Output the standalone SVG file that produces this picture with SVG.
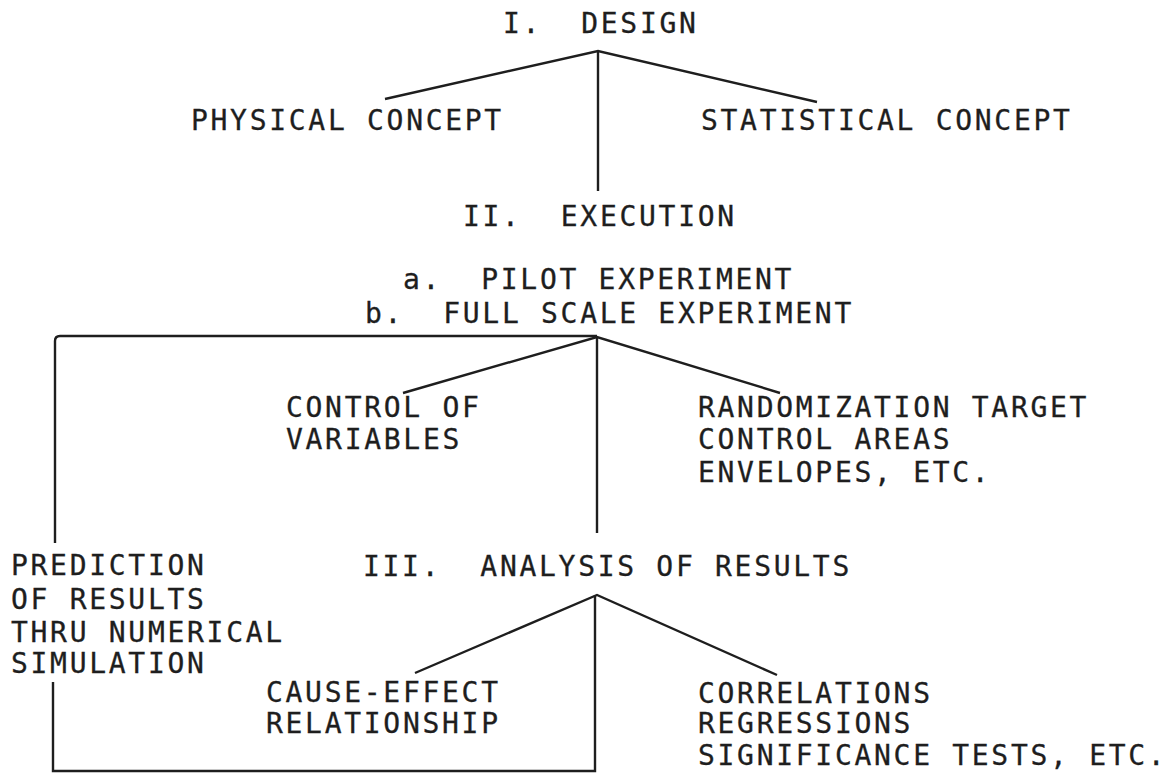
<svg xmlns="http://www.w3.org/2000/svg" width="1168" height="773" viewBox="0 0 1168 773">
<style>
text{font-family:"DejaVu Sans Mono","Liberation Mono",monospace;font-size:28px;letter-spacing:2.7px;fill:#1e1e1e;stroke:#1e1e1e;stroke-width:0.3}
.c{fill:none;stroke:#1e1e1e;stroke-width:2.4;stroke-linejoin:miter}
</style>
<rect width="1168" height="773" fill="#ffffff"/>
<g id="connectors">
<path class="c" d="M385,99 L598,51 L817,102"/>
<path class="c" d="M598,51 V191"/>
<path class="c" d="M55,543 V341 Q55,336 60,336 H597"/>
<path class="c" d="M403,393 L597,337 L780,393"/>
<path class="c" d="M597,337 V533"/>
<path class="c" d="M53,682 V771 H595 V595"/>
<path class="c" d="M415,673 L597,595 L777,675"/>
</g>
<g id="design"><text x="503" y="33" xml:space="preserve">I.  DESIGN</text></g>
<g id="physical"><text x="191" y="130">PHYSICAL CONCEPT</text></g>
<g id="statistical"><text x="701" y="130">STATISTICAL CONCEPT</text></g>
<g id="execution"><text x="463" y="226" xml:space="preserve">II.  EXECUTION</text>
<text x="403" y="289" xml:space="preserve">a.  PILOT EXPERIMENT</text>
<text x="365" y="323" xml:space="preserve">b.  FULL SCALE EXPERIMENT</text></g>
<g id="control"><text x="286" y="417">CONTROL OF</text><text x="286" y="449">VARIABLES</text></g>
<g id="randomization"><text x="698" y="417">RANDOMIZATION TARGET</text><text x="698" y="449">CONTROL AREAS</text><text x="698" y="482">ENVELOPES, ETC.</text></g>
<g id="prediction"><text x="11" y="575">PREDICTION</text><text x="11" y="609">OF RESULTS</text><text x="11" y="642">THRU NUMERICAL</text><text x="11" y="673">SIMULATION</text></g>
<g id="analysis"><text x="363" y="576" xml:space="preserve">III.  ANALYSIS OF RESULTS</text></g>
<g id="cause"><text x="266" y="702">CAUSE-EFFECT</text><text x="266" y="733">RELATIONSHIP</text></g>
<g id="correlations"><text x="698" y="703">CORRELATIONS</text><text x="698" y="733">REGRESSIONS</text><text x="698" y="765">SIGNIFICANCE TESTS, ETC.</text></g>
</svg>
